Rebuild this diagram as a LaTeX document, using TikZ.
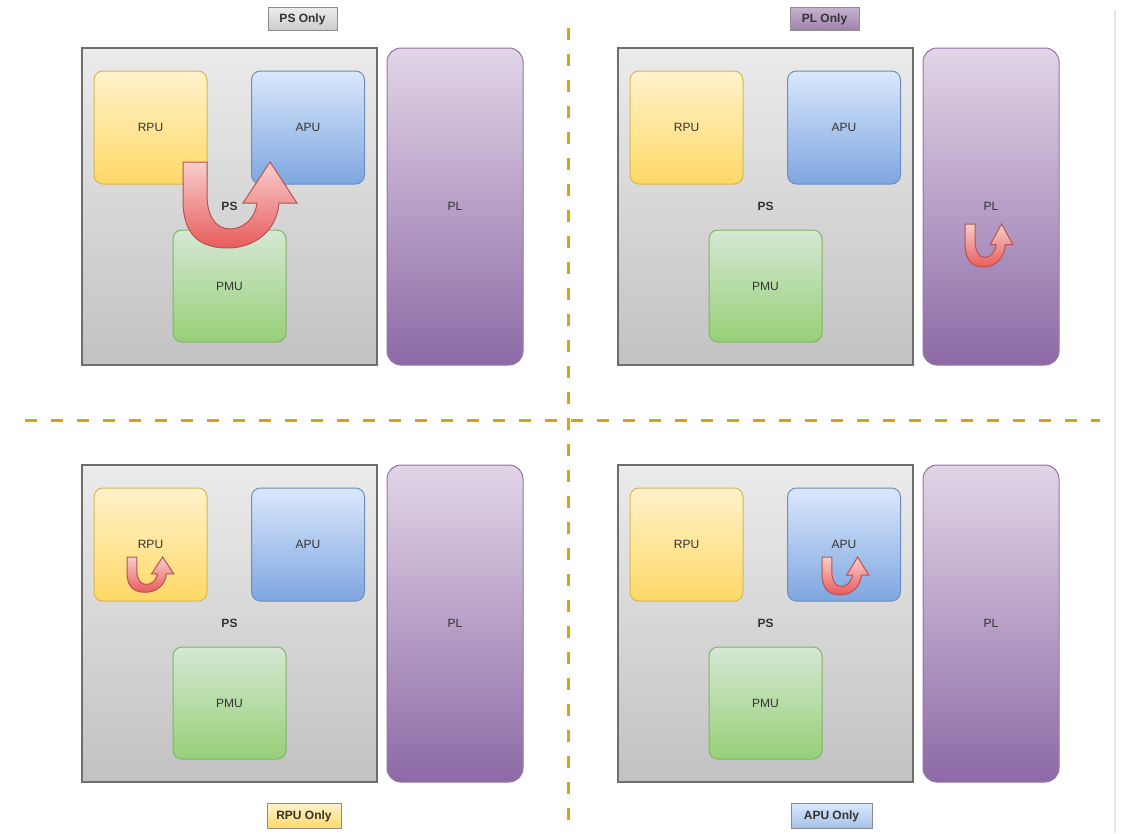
\documentclass[tikz,border=0pt]{standalone}
\usepackage{fontspec}
\setmainfont{Liberation Sans}
\definecolor{rpuTop}{HTML}{FFF2CC}\definecolor{rpuBot}{HTML}{FFD966}\definecolor{rpuLine}{HTML}{D6B656}
\definecolor{apuTop}{HTML}{DAE8FC}\definecolor{apuBot}{HTML}{7EA6E0}\definecolor{apuLine}{HTML}{6C8EBF}
\definecolor{pmuTop}{HTML}{D5E8D4}\definecolor{pmuBot}{HTML}{97D077}\definecolor{pmuLine}{HTML}{82B366}
\definecolor{plTop}{HTML}{E1D5E7}\definecolor{plBot}{HTML}{8D6AA6}\definecolor{plLine}{HTML}{9673A6}
\definecolor{psTop}{HTML}{EBEBEB}\definecolor{psBot}{HTML}{C2C2C2}\definecolor{psLine}{HTML}{6E6E6E}
\definecolor{arTop}{HTML}{F8CECC}\definecolor{arBot}{HTML}{E85C5C}\definecolor{arLine}{HTML}{B85450}
\definecolor{divider}{HTML}{D1A514}
\definecolor{ink}{HTML}{333333}
\tikzset{
  lbl/.style={font=\fontsize{12}{14}\selectfont, text=ink},
  unitbox/.style={lbl, rounded corners=9pt, draw, line width=1pt, minimum width=113pt, minimum height=113pt, inner sep=0pt},
  rpu/.style={top color=rpuTop, bottom color=rpuBot, draw=rpuLine},
  apu/.style={top color=apuTop, bottom color=apuBot, draw=apuLine},
  pmu/.style={top color=pmuTop, bottom color=pmuBot, draw=pmuLine, minimum height=112pt},
  psbox/.style={font=\fontsize{12}{14}\selectfont\bfseries, text=ink, draw=psLine, line width=1.3pt, top color=psTop, bottom color=psBot, minimum width=295pt, minimum height=317pt, inner sep=0pt},
  plbox/.style={lbl, rounded corners=14pt, draw=plLine, line width=1pt, top color=plTop, bottom color=plBot, minimum width=136pt, minimum height=317pt, inner sep=0pt},
  tag/.style={font=\fontsize{12}{14}\selectfont\bfseries, text=ink, draw=psLine!80, line width=0.8pt, minimum height=23pt, inner sep=0pt},
  divline/.style={draw=divider, line width=3pt, dash pattern=on 12pt off 14pt},
  arrowbody/.style={top color=arTop, bottom color=arBot, draw=arLine, line width=1pt},
  uturn/.pic={
    \path[arrowbody] (0,0) -- (0,38) .. controls (0,78) and (22,86) .. (45,86)
      .. controls (72,86) and (94,68) .. (96,41) -- (114,41) -- (87,0) -- (60,41) -- (74,41)
      .. controls (72,58) and (59,67) .. (47,67) .. controls (32,67) and (24,53) .. (24,33)
      -- (24,0) -- cycle;
  }
}
% one PS/PL block: #1 name prefix, #2 x offset, #3 y offset
\newcommand\zquad[3]{%
  \begin{scope}[shift={(#2,#3)}]
    \node[psbox] (#1ps) at (229.5,206.5) {PS};
    \node[unitbox, rpu] (#1rpu) at (150.5,127.5) {RPU};
    \node[unitbox, apu] (#1apu) at (308,127.5) {APU};
    \node[unitbox, pmu] (#1pmu) at (229.5,286) {PMU};
    \node[plbox] (#1pl) at (455,206.5) {PL};
  \end{scope}}
\begin{document}
\begin{tikzpicture}[x=1pt, y=-1pt]
  \fill[white] (0,0) rectangle (1130,833);
  \useasboundingbox (0,0) rectangle (1130,833);

  % faint page edge on the right
  \coordinate (edgeTop) at (1115,10);
  \coordinate (edgeBot) at (1115,833);
  \draw[black!9, line width=1.5pt] (edgeTop) -- (edgeBot);

  % quadrant dividers
  \coordinate (hL) at (25,420);
  \coordinate (hR) at (1100,420);
  \coordinate (vT) at (568,28);
  \coordinate (vB) at (568,833);
  \draw[divline] (hL) -- (hR);
  \draw[divline] (vT) -- (vB);

  % four PS/PL blocks
  \zquad{tl}{0}{0}
  \zquad{tr}{536}{0}
  \zquad{bl}{0}{417}
  \zquad{br}{536}{417}

  % mode captions
  \node[tag, top color=gray!15, bottom color=gray!40, minimum width=69pt] (psonly) at (302.5,19) {PS Only};
  \node[tag, top color=plLine!55, bottom color=plLine!90, minimum width=69pt] (plonly) at (824.5,19) {PL Only};
  \node[tag, top color=rpuTop, bottom color=rpuBot, minimum width=74pt, minimum height=25pt] (rpuonly) at (304,816) {RPU Only};
  \node[tag, top color=apuTop, bottom color=apuBot!70, minimum width=81pt, minimum height=25pt] (apuonly) at (831.5,816) {APU Only};

  % u-turn arrows
  \pic at (183,162) {uturn};
  \pic[xscale=0.42, yscale=0.5] at (965,224) {uturn};
  \pic[xscale=0.41, yscale=0.41] at (127,557) {uturn};
  \pic[xscale=0.41, yscale=0.44] at (822,557) {uturn};
\end{tikzpicture}
\end{document}
